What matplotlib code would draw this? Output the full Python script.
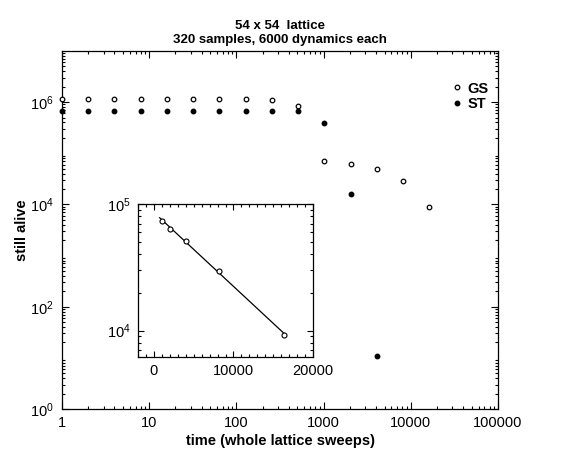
import numpy as np
import matplotlib
matplotlib.use("Agg")
import matplotlib.pyplot as plt
from matplotlib.ticker import LogLocator, MultipleLocator, NullFormatter

plt.rcParams['font.family'] = ['Liberation Sans', 'DejaVu Sans']
plt.rcParams['mathtext.fontset'] = 'custom'
plt.rcParams['mathtext.rm'] = 'Liberation Sans'
plt.rcParams['mathtext.default'] = 'regular'

# ---- data ----
title_lines = ["54 x 54  lattice", "320 samples, 6000 dynamics each"]
gs_t = [1, 2, 4, 8, 16, 32, 64, 128, 256, 512, 1024, 2048, 4096, 8192, 16384]
gs_n = [1.14e6, 1.14e6, 1.14e6, 1.14e6, 1.14e6, 1.14e6, 1.14e6, 1.14e6, 1.12e6,
        8.5e5, 7.1e4, 6.2e4, 4.9e4, 2.87e4, 9.1e3]
st_t = [1, 2, 4, 8, 16, 32, 64, 128, 256, 512, 1024, 2048, 4096]
st_n = [6.7e5, 6.7e5, 6.7e5, 6.7e5, 6.7e5, 6.7e5, 6.7e5, 6.7e5, 6.7e5,
        6.6e5, 3.9e5, 1.6e4, 10.8]
inset_t = [1024, 2048, 4096, 8192, 16384]
inset_n = [7.3e4, 6.4e4, 5.1e4, 2.95e4, 9.3e3]
xticks_main = [1, 10, 100, 1000, 10000, 100000]
xticklabels_main = ["1", "10", "100", "1000", "10000", "100000"]
yticks_main = [1, 1e2, 1e4, 1e6]
yticklabels_main = [r"$10^0$", r"$10^2$", r"$10^4$", r"$10^6$"]
xticks_inset = [0, 10000, 20000]
yticks_inset = [1e4, 1e5]
yticklabels_inset = [r"$10^4$", r"$10^5$"]

W, H = 582, 457
fig = plt.figure(figsize=(W / 100, H / 100), dpi=100)

def rect(l, r, t, b):
    return [l / W, 1 - b / H, (r - l) / W, (b - t) / H]

ax = fig.add_axes(rect(62, 498, 51, 409))
ms = 3.3
ax.plot(gs_t, gs_n, 'o', ms=ms, mfc='white', mec='black', mew=0.9, label='GS', clip_on=False, zorder=3)
ax.plot(st_t, st_n, 'o', ms=ms, mfc='black', mec='black', mew=0.9, label='ST', clip_on=False, zorder=3)
ax.set_xscale('log')
ax.set_yscale('log')
ax.set_xlim(1, 100000)
ax.set_ylim(1, 1e7)
ax.set_xticks(xticks_main)
ax.set_xticklabels(xticklabels_main)
ax.set_yticks(yticks_main)
ax.set_yticklabels(yticklabels_main)
ax.xaxis.set_minor_locator(LogLocator(base=10, subs=np.arange(2, 10), numticks=20))
ax.yaxis.set_minor_locator(LogLocator(base=10, subs=np.arange(2, 10), numticks=20))
ax.xaxis.set_minor_formatter(NullFormatter())
ax.yaxis.set_minor_formatter(NullFormatter())
ax.tick_params(which='both', direction='in', top=True, right=True, labelsize=10.5, width=0.8)
ax.tick_params(which='major', length=5, pad=5)
ax.tick_params(axis='y', which='major', pad=6)
ax.tick_params(which='minor', length=2.5)
for s in ax.spines.values():
    s.set_linewidth(0.9)
ax.set_xlabel("time (whole lattice sweeps)", fontsize=10.5, fontweight='bold', labelpad=3)
ax.set_ylabel("still alive", fontsize=10.5, fontweight='bold', labelpad=1)
ax.set_title("\n".join(title_lines), fontsize=9.5, fontweight='bold', pad=6, linespacing=1.2)
leg = ax.legend(loc='upper right', bbox_to_anchor=(0.995, 0.935), frameon=False, fontsize=10.5,
                handlelength=0.6, handletextpad=0.4, borderpad=0, labelspacing=0.1)
for t in leg.get_texts():
    t.set_fontweight('bold')

# ---- inset ----
ax2 = fig.add_axes(rect(138, 313, 204, 357))
ax2.set_yscale('log')
ax2.plot(inset_t, inset_n, 'o', ms=3.6, mfc='white', mec='black', mew=0.8, zorder=3)
coef = np.polyfit(inset_t, np.log(inset_n), 1)
fx = np.array([inset_t[0] - 300, inset_t[-1]])
ax2.plot(fx, np.exp(np.polyval(coef, fx)), '-', color='black', lw=0.9, zorder=2)
ax2.set_xlim(-2000, 20000)
ax2.set_ylim(6.2e3, 1e5)
ax2.set_xticks(xticks_inset)
ax2.set_xticklabels([str(v) for v in xticks_inset])
ax2.xaxis.set_minor_locator(MultipleLocator(1000))
ax2.set_yticks(yticks_inset)
ax2.set_yticklabels(yticklabels_inset)
ax2.yaxis.set_minor_locator(LogLocator(base=10, subs=np.arange(2, 10), numticks=20))
ax2.yaxis.set_minor_formatter(NullFormatter())
ax2.tick_params(which='both', direction='in', top=True, right=True, labelsize=10.5, width=0.8)
ax2.tick_params(which='major', length=4, pad=5)
ax2.tick_params(which='minor', length=2)
for s in ax2.spines.values():
    s.set_linewidth(0.9)

fig.savefig("out.png", dpi=100)
